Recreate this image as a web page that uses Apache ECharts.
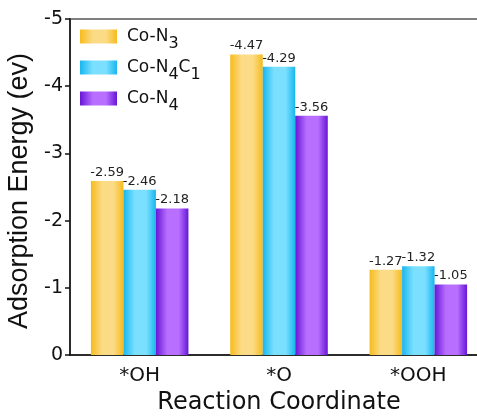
<!DOCTYPE html>
<html>
<head>
<meta charset="utf-8">
<script src="https://cdn.jsdelivr.net/npm/echarts@6/dist/echarts.min.js"></script>
<style>
  html, body { margin: 0; padding: 0; background: #fff; }
  #chart { width: 477px; height: 418px; }
</style>
</head>
<body>
<div id="chart"></div>
<script>
'use strict';

// reaction steps on x axis
var categories = ['*OH', '*O', '*OOH'];
var seriesNames = ['Co-N3', 'Co-N4C1', 'Co-N4'];
var legendLabels = ['Co-N{s|3}', 'Co-N{s|4}C{s|1}', 'Co-N{s|4}'];
var coN3 = [-2.59, -4.47, -1.27];
var coN4C1 = [-2.46, -4.29, -1.32];
var coN4 = [-2.18, -3.56, -1.05];
var yTicks = [-5, -4, -3, -2, -1, 0];

// edge / centre colours of the bar shading
var shades = [
  ['#f6bb1c', '#fcdb86'],
  ['#18b6ee', '#7be0ff'],
  ['#6716d6', '#b86fff']
];

function barFill(pair) {
  return new echarts.graphic.LinearGradient(0, 0, 1, 0, [
    { offset: 0, color: pair[0] },
    { offset: 0.35, color: pair[1] },
    { offset: 0.7, color: pair[1] },
    { offset: 1, color: pair[0] }
  ]);
}

var myChart = echarts.init(document.getElementById('chart'));

var seriesData = [coN3, coN4C1, coN4];
var series = seriesData.map(function (vals, i) {
  return {
    name: seriesNames[i],
    type: 'bar',
    xAxisIndex: 0,
    data: vals,
    barGap: '0%',
    barCategoryGap: '30%',
    itemStyle: { color: barFill(shades[i]) },
    label: {
      show: true,
      position: 'top',
      distance: 2,
      fontSize: 13,
      color: '#222',
      fontFamily: 'DejaVu Sans',
      formatter: function (p) { return p.value.toFixed(2); }
    }
  };
});

var option = {
  animation: false,
  grid: {
    left: 70, top: 19, right: -11, bottom: 63,
    containLabel: false,
    outerBoundsMode: 'none',
    show: true, borderColor: '#555', borderWidth: 1.5
  },
  legend: {
    orient: 'vertical',
    left: 75,
    top: 23,
    itemWidth: 37,
    itemHeight: 14,
    itemGap: 7,
    icon: 'rect',
    data: seriesNames,
    formatter: function (name) {
      return legendLabels[seriesNames.indexOf(name)];
    },
    textStyle: {
      fontFamily: 'DejaVu Sans',
      fontSize: 17,
      color: '#111',
      padding: [0, 0, 0, 5],
      rich: {
        s: { fontSize: 16, fontFamily: 'DejaVu Sans', color: '#111', padding: [15, 0, 0, 0] }
      }
    }
  },
  xAxis: [{
    type: 'category',
    data: categories,
    position: 'bottom',
    axisLine: { lineStyle: { color: '#111', width: 1.5 } },
    axisTick: { alignWithLabel: true, length: 6, lineStyle: { color: '#111', width: 1.5 } },
    axisLabel: { fontFamily: 'DejaVu Sans', fontSize: 20, color: '#111', margin: 11 },
    name: 'Reaction Coordinate',
    nameLocation: 'middle',
    nameGap: 35,
    nameTextStyle: { fontFamily: 'DejaVu Sans', fontSize: 24, color: '#111' }
  }, {
    type: 'category',
    data: categories,
    position: 'bottom',
    axisLine: { show: false },
    axisTick: { length: 3, lineStyle: { color: '#555', width: 1 } },
    axisLabel: { show: false }
  }],
  yAxis: {
    type: 'value',
    inverse: true,
    min: yTicks[0],
    max: yTicks[yTicks.length - 1],
    interval: 1,
    axisLine: { show: true, lineStyle: { color: '#111', width: 1.5 } },
    axisTick: { show: true, length: 5, lineStyle: { color: '#111', width: 1.5 } },
    splitLine: { show: false },
    axisLabel: { fontFamily: 'DejaVu Sans', fontSize: 19, color: '#111', margin: 7 },
    name: 'Adsorption Energy (ev)',
    nameLocation: 'middle',
    nameGap: 28,
    nameTextStyle: { fontFamily: 'Liberation Sans', fontSize: 27, color: '#111', padding: [0, 8, 0, 0] }
  },
  series: series
};

myChart.setOption(option);
</script>
</body>
</html>
